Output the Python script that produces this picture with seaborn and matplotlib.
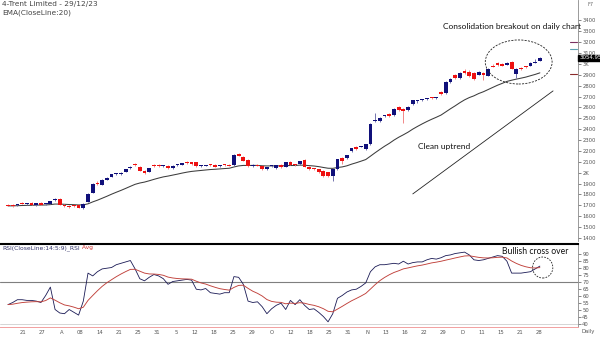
import numpy as np
import pandas as pd
import matplotlib
matplotlib.use("Agg")
import matplotlib.pyplot as plt
import matplotlib.transforms as mtransforms
from matplotlib.patches import Ellipse
from matplotlib.lines import Line2D
import seaborn as sns

sns.set_theme(style="white")
plt.rcParams["font.family"] = ["DejaVu Sans"]

# ---- daily OHLC, Trent Ltd ----
opens = [1700, 1700, 1700, 1720, 1708, 1725, 1705, 1722, 1708, 1715,
         1745, 1762, 1700, 1692, 1698, 1700, 1675, 1735, 1815, 1905,
         1890, 1935, 1965, 1985, 1985, 2010, 2040, 2070, 2055, 2015,
         2010, 2070, 2066, 2063, 2065, 2040, 2068, 2075, 2098, 2095,
         2095, 2058, 2065, 2075, 2070, 2062, 2072, 2070, 2070, 2170,
         2145, 2120, 2060, 2068, 2060, 2030, 2062, 2040, 2075, 2055,
         2100, 2070, 2076, 2114, 2057, 2040, 2030, 2020, 2002, 1974,
         2030, 2132, 2132, 2196, 2234, 2240, 2215, 2262, 2475, 2474,
         2520, 2538, 2530, 2603, 2585, 2575, 2630, 2655, 2668, 2675,
         2690, 2686, 2740, 2730, 2832, 2900, 2872, 2936, 2927, 2918,
         2900, 2918, 2890, 2985, 3010, 3000, 2992, 3020, 2910, 2964,
         2978, 2985, 3010, 3030]
highs = [1712, 1710, 1716, 1728, 1720, 1730, 1724, 1728, 1718, 1742,
         1768, 1765, 1708, 1700, 1705, 1706, 1718, 1810, 1905, 1920,
         1940, 1962, 1990, 1998, 2005, 2035, 2060, 2090, 2062, 2022,
         2045, 2080, 2078, 2075, 2070, 2068, 2078, 2092, 2110, 2100,
         2102, 2070, 2075, 2082, 2076, 2072, 2082, 2078, 2172, 2185,
         2150, 2125, 2080, 2078, 2065, 2055, 2072, 2075, 2082, 2100,
         2108, 2078, 2110, 2122, 2062, 2045, 2036, 2025, 2008, 2035,
         2128, 2140, 2166, 2230, 2242, 2250, 2268, 2455, 2550, 2510,
         2530, 2545, 2592, 2612, 2592, 2610, 2672, 2668, 2678, 2688,
         2698, 2695, 2748, 2840, 2870, 2912, 2925, 2950, 2940, 2925,
         2935, 2925, 2962, 2995, 3018, 3008, 3015, 3028, 2960, 2972,
         2985, 3015, 3048, 3062]
lows = [1690, 1688, 1695, 1708, 1700, 1700, 1698, 1700, 1702, 1710,
        1740, 1700, 1685, 1680, 1685, 1672, 1668, 1730, 1810, 1885,
        1885, 1930, 1958, 1975, 1980, 2005, 2035, 2060, 2015, 1990,
        2005, 2055, 2055, 2055, 2035, 2035, 2060, 2070, 2080, 2072,
        2055, 2050, 2058, 2062, 2050, 2055, 2062, 2058, 2065, 2150,
        2105, 2055, 2052, 2060, 2025, 2025, 2055, 2035, 2045, 2050,
        2070, 2062, 2070, 2050, 2025, 2025, 1995, 1965, 1965, 1927,
        2025, 2080, 2125, 2190, 2210, 2232, 2210, 2255, 2465, 2468,
        2510, 2515, 2525, 2570, 2455, 2570, 2625, 2645, 2660, 2668,
        2678, 2678, 2715, 2725, 2826, 2865, 2866, 2912, 2880, 2855,
        2895, 2850, 2885, 2970, 2985, 2980, 2988, 2950, 2873, 2948,
        2962, 2980, 3005, 3025]
closes = [1695, 1696, 1712, 1715, 1712, 1705, 1720, 1705, 1712, 1738,
          1762, 1705, 1692, 1688, 1692, 1680, 1712, 1805, 1900, 1895,
          1935, 1955, 1985, 1990, 2000, 2030, 2055, 2068, 2020, 1995,
          2040, 2062, 2064, 2065, 2040, 2064, 2070, 2088, 2085, 2078,
          2060, 2060, 2067, 2068, 2055, 2066, 2070, 2066, 2165, 2155,
          2110, 2060, 2075, 2066, 2030, 2050, 2066, 2070, 2050, 2095,
          2075, 2068, 2104, 2057, 2030, 2030, 2002, 1974, 1974, 2030,
          2122, 2104, 2160, 2224, 2215, 2242, 2262, 2447, 2485, 2502,
          2522, 2520, 2585, 2575, 2565, 2603, 2668, 2660, 2670, 2679,
          2684, 2688, 2722, 2832, 2862, 2872, 2918, 2918, 2890, 2862,
          2927, 2900, 2955, 2975, 2992, 2985, 3010, 2955, 2955, 2955,
          2970, 3010, 3020, 3054.95]

# ---- RSI(14) values ----
rsi_values = [53.5, 55.0, 57.0, 57.0, 56.5, 56.5, 56.0, 55.0, 60.0, 66.0,
              50.0, 47.5, 47.0, 50.0, 48.0, 46.0, 56.0, 76.0, 74.0, 77.0,
              79.0, 79.5, 80.0, 82.0, 83.0, 84.0, 85.0, 79.0, 72.0, 70.5,
              73.0, 75.0, 74.0, 72.0, 68.0, 70.0, 70.5, 71.0, 71.5, 71.0,
              64.5, 64.0, 65.0, 62.0, 61.5, 61.0, 62.0, 62.0, 73.5, 73.0,
              68.0, 56.0, 55.0, 55.5, 52.0, 47.0, 50.5, 53.0, 54.5, 50.0,
              56.5, 53.5, 57.0, 53.0, 50.0, 50.5, 48.0, 45.0, 41.2, 47.0,
              58.0, 60.0, 62.5, 64.0, 64.5, 66.5, 69.0, 77.0, 80.5, 82.0,
              82.0, 82.5, 83.0, 82.5, 84.5, 82.5, 83.5, 84.0, 84.0, 85.5,
              86.5, 86.0, 87.0, 88.5, 89.0, 90.0, 90.5, 91.0, 89.0, 85.5,
              85.0, 85.5, 86.5, 87.5, 88.5, 88.0, 84.5, 76.0, 76.0, 76.0,
              76.5, 77.0, 79.0, 81.0]

date_labels = ["21", "27", "A", "08", "14", "21", "25", "31", "5", "12",
               "18", "25", "29", "O", "12", "18", "25", "31", "N", "13",
               "16", "22", "29", "D", "11", "15", "21", "28"]

price_ticks = list(range(1400, 3500, 100))
price_tick_labels = [("%dK" % (p // 1000)) if p % 1000 == 0 else str(p) for p in price_ticks]
rsi_ticks = list(range(40, 95, 5))
last_close = closes[-1]

df = pd.DataFrame({"bar": np.arange(len(closes)), "open": opens, "high": highs,
                   "low": lows, "close": closes, "rsi": rsi_values})
df["ema20"] = df["close"].ewm(span=20, adjust=False).mean()
df["rsi_avg"] = df["rsi"].ewm(span=9, adjust=False).mean()

W, H = 600, 338
fig = plt.figure(figsize=(W / 100, H / 100), dpi=100)
fig.patch.set_facecolor("white")


def fx(x):
    return x / W


def fy(y):
    return 1 - y / H


ax = fig.add_axes([0, fy(241), fx(578), 241 / H])
ax2 = fig.add_axes([0, fy(327), fx(578), 83 / H], sharex=ax)

# ---- candlesticks ----
UP, DOWN = "#10107a", "#ee1111"
up = df["close"] >= df["open"]
body_col = np.where(up, UP, DOWN)
wick_col = np.where(up, "#6a6aa8", "#f08080")
ax.vlines(df["bar"], df["low"], df["high"], colors=wick_col, linewidth=0.65, zorder=2)
body_low = np.minimum(df["open"], df["close"])
body_h = np.maximum((df["close"] - df["open"]).abs(), 9)
ax.bar(df["bar"], body_h, bottom=body_low, width=0.8, color=body_col, linewidth=0, zorder=3)

sns.lineplot(data=df, x="bar", y="ema20", ax=ax, color="#3c3c3c", linewidth=0.75, zorder=1)

ax.set_xlim(-1.7, 121.1)
ax.set_ylim(1372, 3588)
for s in ["top", "left", "bottom"]:
    ax.spines[s].set_visible(False)
ax.spines["right"].set_color("#8a8a8a")
ax.spines["right"].set_linewidth(0.6)
ax.yaxis.tick_right()
ax.set_yticks(price_ticks)
ax.set_yticklabels(price_tick_labels)
ax.tick_params(axis="y", direction="out", length=2, width=0.5, labelsize=3.8,
               colors="#555555", pad=1)
ax.tick_params(axis="x", bottom=False, labelbottom=False)
ax.set_xlabel("")
ax.set_ylabel("")
ax.grid(False)

# last price tag
tr = mtransforms.blended_transform_factory(ax.transAxes, ax.transData)
ax.text(1.002, last_close, "%.2f" % last_close, transform=tr, fontsize=3.9,
        color="white", va="center", ha="left", zorder=6,
        bbox=dict(boxstyle="square,pad=0.15", fc="black", ec="black"))

# small markers on price scale
for y, c in [(42, "#7a3060"), (49, "#5aa0b0"), (74, "#8a2a2a")]:
    fig.add_artist(Line2D([fx(570), fx(577)], [fy(y), fy(y)], color=c, linewidth=0.8))

# consolidation ellipse and trend line
ax.add_patch(Ellipse((108.5, 3018), 14.2, 405, fill=False, linestyle=(0, (2.5, 1.5)),
                     linewidth=0.6, edgecolor="#222222", zorder=5))
ax.plot([86.0, 115.8], [1805, 2752], color="#222222", linewidth=0.6, zorder=4)

# ---- RSI panel ----
sns.lineplot(data=df, x="bar", y="rsi", ax=ax2, color="#1a1a55", linewidth=0.6, zorder=3)
sns.lineplot(data=df, x="bar", y="rsi_avg", ax=ax2, color="#c0403a", linewidth=0.65, zorder=4)
ax2.axhline(70, color="#7f7f7f", linewidth=0.8, zorder=1)
ax2.axhline(40, color="#cfcfcf", linewidth=0.6, zorder=1)
ax2.set_ylim(37.5, 96.8)
ax2.spines["left"].set_visible(False)
ax2.spines["top"].set_color("black")
ax2.spines["top"].set_linewidth(1.5)
ax2.spines["bottom"].set_color("#f2a0a0")
ax2.spines["bottom"].set_linewidth(0.7)
ax2.spines["right"].set_color("#8a8a8a")
ax2.spines["right"].set_linewidth(0.6)
ax2.yaxis.tick_right()
ax2.set_yticks(rsi_ticks)
ax2.tick_params(axis="y", direction="out", length=2, width=0.5, labelsize=3.8,
                colors="#555555", pad=1)
ax2.set_xticks(np.linspace(3.2, 112.8, len(date_labels)))
ax2.set_xticklabels(date_labels)
ax2.tick_params(axis="x", direction="in", length=2, width=0.5, labelsize=3.8,
                colors="#e08a8a", labelcolor="#555555", pad=2)
ax2.set_xlabel("")
ax2.set_ylabel("")
ax2.grid(False)

ax2.add_patch(Ellipse((113.6, 80.0), 4.3, 15.0, fill=False, linestyle=(0, (2, 1.5)),
                      linewidth=0.6, edgecolor="#222222", zorder=5))

# ---- text ----
small = dict(fontsize=5.3, color="#444444", va="center", ha="left")
fig.text(fx(2), fy(4), "4-Trent Limited - 29/12/23", **small)
fig.text(fx(2), fy(13), "EMA(CloseLine:20)", **small)
t1 = fig.text(fx(2), fy(248), "RSI(CloseLine:14:5:9)_RSI", fontsize=4.3,
              color="#33336a", va="center", ha="left")
ax2.annotate(" Avg", xy=(1, 0.5), xycoords=t1, fontsize=4.3, color="#d03030",
             va="center", ha="left")
fig.text(fx(590), fy(5), "F7", fontsize=3.6, color="#666666", va="center", ha="center")
fig.text(fx(581), fy(331), "Daily", fontsize=3.8, color="#555555", va="center", ha="left")

note = ["Liberation Sans Narrow", "Lato", "DejaVu Sans"]
fig.text(fx(443), fy(26), "Consolidation breakout on daily chart", fontsize=6.0,
         family=note, color="#111111", va="center", ha="left")
fig.text(fx(418), fy(147), "Clean uptrend", fontsize=6.0, family=note,
         color="#111111", va="center", ha="left")
fig.text(fx(502), fy(252), "Bullish cross over", fontsize=6.2, family=note,
         color="#111111", va="center", ha="left")

fig.savefig("out.png", dpi=100)
